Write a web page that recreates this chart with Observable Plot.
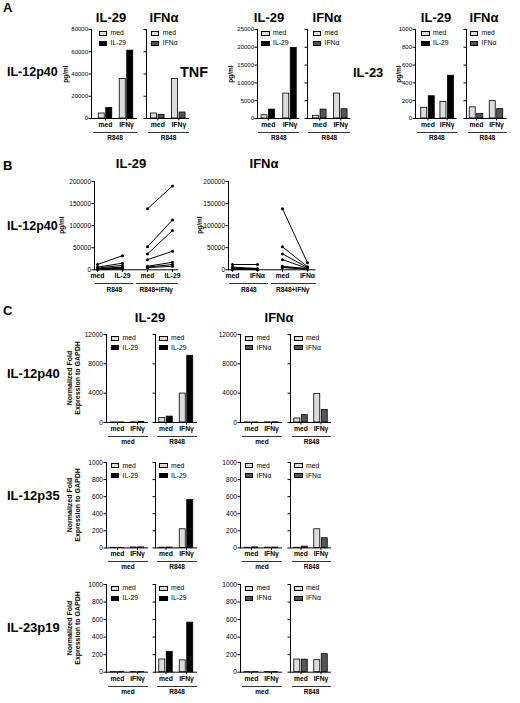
<!DOCTYPE html>
<html><head><meta charset="utf-8">
<script src="https://cdn.jsdelivr.net/npm/d3@7"></script>
<script src="https://cdn.jsdelivr.net/npm/@observablehq/plot@0.6"></script>
<style>
body{margin:0;background:#fff;}
#fig{position:relative;width:520px;height:703px;overflow:hidden;font-family:"Liberation Sans",Arial,Helvetica,sans-serif;color:#000;background:#fff;}
.t{position:absolute;white-space:nowrap;line-height:1;}
.box{position:absolute;box-sizing:border-box;border:1px solid #000;}
.ul{position:absolute;height:0;border-top:1px solid #333;}
</style></head><body><div id="fig"></div>
<script>
// ---------------- DATA ----------------
const conds = ["med", "IFNγ"];                 // x categories within each bar chart
const treatments = ["IL-29", "IFNα"];          // second series of each chart
const bGroups = ["R848", "R848+IFNγ"];
const donors = ["D1", "D2", "D3", "D4", "D5", "D6", "D7"];

// Panel A (pg/ml); arrays are [med, IFNγ]
const aP40_IL29_med = [4500, 35500];
const aP40_IL29_trt = [9500, 61000];
const aP40_IFNa_med = [4500, 35500];
const aP40_IFNa_trt = [3300, 5400];
const aTNF_IL29_med = [900, 7000];
const aTNF_IL29_trt = [2500, 19800];
const aTNF_IFNa_med = [750, 7000];
const aTNF_IFNa_trt = [2500, 2600];
const aIL23_IL29_med = [120, 185];
const aIL23_IL29_trt = [250, 480];
const aIL23_IFNa_med = [125, 195];
const aIL23_IFNa_trt = [50, 105];

// Panel B (pg/ml), one value per donor
const bR848_med = [12000, 6000, 4000, 3000, 2000, 1500, 1000];
const bR848_IL29 = [32000, 15000, 10000, 6000, 4000, 3000, 2000];
const bR848G_med = [138000, 52000, 36000, 23000, 8000, 6000, 5000];
const bR848G_IL29 = [190000, 113000, 89000, 42000, 17000, 12000, 8000];
const bR848_IFNa = [12000, 3000, 2000, 1500, 1000, 800, 500];
const bR848G_IFNa = [16000, 7000, 5000, 3000, 2500, 2000, 1500];

// Panel C (normalized fold expression); arrays are [med, IFNγ]
const cP40_IL29_medgrp_med = [10, 20];   const cP40_IL29_medgrp_trt = [10, 80];
const cP40_IL29_R848_med = [600, 3950];  const cP40_IL29_R848_trt = [800, 9100];
const cP40_IFNa_medgrp_med = [10, 20];   const cP40_IFNa_medgrp_trt = [10, 30];
const cP40_IFNa_R848_med = [550, 3900];  const cP40_IFNa_R848_trt = [1000, 1700];
const cP35_IL29_medgrp_med = [1, 5];     const cP35_IL29_medgrp_trt = [1, 6];
const cP35_IL29_R848_med = [3, 218];     const cP35_IL29_R848_trt = [4, 560];
const cP35_IFNa_medgrp_med = [2, 3];     const cP35_IFNa_medgrp_trt = [6, 4];
const cP35_IFNa_R848_med = [1, 218];     const cP35_IFNa_R848_trt = [15, 113];
const cP19_IL29_medgrp_med = [1, 1];     const cP19_IL29_medgrp_trt = [1, 1];
const cP19_IL29_R848_med = [145, 135];   const cP19_IL29_R848_trt = [232, 565];
const cP19_IFNa_medgrp_med = [1, 1];     const cP19_IFNa_medgrp_trt = [1, 1];
const cP19_IFNa_R848_med = [144, 137];   const cP19_IFNa_R848_trt = [143, 205];

// tick values
const ticksP40A = [0, 20000, 40000, 60000, 80000];
const ticksTNF = [0, 5000, 10000, 15000, 20000, 25000];
const ticks1000 = [0, 200, 400, 600, 800, 1000];
const ticksB = [0, 50000, 100000, 150000, 200000];
const ticksC1 = [0, 4000, 8000, 12000];

// ---------------- STYLE ----------------
const FONT = '"Liberation Sans", Arial, Helvetica, sans-serif';
const fills = {"med": "#dcdcdc", "IL-29": "#000000", "IFNα": "#555555"};
const fig = document.getElementById("fig");

function txt(x, y, s, o = {}) {
  const e = document.createElement("div");
  e.className = "t";
  e.textContent = s;
  e.style.left = x + "px";
  e.style.top = y + "px";
  e.style.fontSize = (o.size || 7) + "px";
  e.style.fontWeight = o.bold ? "bold" : "normal";
  const ax = o.anchor === "middle" ? "-50%" : o.anchor === "end" ? "-100%" : "0";
  e.style.transform = `translate(${ax},-50%)` + (o.rotate ? " rotate(-90deg)" : "");
  if (o.rotate) { e.style.textAlign = "center"; e.style.lineHeight = o.lh || "1"; }
  fig.appendChild(e);
  return e;
}
function underline(x1, x2, y) {
  const e = document.createElement("div");
  e.className = "ul";
  e.style.left = x1 + "px"; e.style.top = y + "px"; e.style.width = (x2 - x1) + "px";
  fig.appendChild(e);
}
function legend(x, y, names) {
  names.forEach((n, i) => {
    const b = document.createElement("div");
    b.className = "box";
    b.style.left = x + "px"; b.style.top = (y + i * 9.8 - 2.5) + "px";
    b.style.width = "8.5px"; b.style.height = "5px";
    b.style.background = fills[n];
    fig.appendChild(b);
    txt(x + 12, y + i * 9.8, n, {size: 6.8});
  });
}
function place(svg, left, top) {
  svg.style.position = "absolute";
  svg.style.left = left + "px";
  svg.style.top = top + "px";
  fig.appendChild(svg);
}

function barChart(o) {
  const ml = 34, mr = 2, mt = 3, mb = 14;
  const svgLeft = o.axisX - ml, svgTop = o.yTop - mt;
  const width = o.endX - o.axisX + ml + mr;
  const height = o.yBottom - o.yTop + mt + mb;
  const bw = 13.5, d = o.c2 - o.c1;
  const rows = conds.map((c, i) => ({cond: c, med: o.med[i], trt: o.trt[i]}));
  const svg = Plot.plot({
    width, height, marginLeft: ml, marginRight: mr, marginTop: mt, marginBottom: mb,
    style: `background: transparent; overflow: visible; font-family: ${FONT}; color: #000;`,
    x: {type: "band", domain: conds, range: [o.c1 - bw / 2 - svgLeft, o.c2 + bw / 2 - svgLeft],
        paddingInner: 1 - bw / d, paddingOuter: 0, round: false, label: null},
    y: {domain: [0, o.yMax], label: null},
    marks: [
      Plot.barY(rows, {x: "cond", y: "med", fill: fills["med"], stroke: "#000", strokeWidth: 0.8, insetLeft: 0, insetRight: 7.5}),
      Plot.barY(rows, {x: "cond", y: "trt", fill: fills[o.trtName], stroke: "#000", strokeWidth: 0.8, insetLeft: 7.5, insetRight: 0}),
      Plot.ruleY([0], {stroke: "#000", strokeWidth: 1}),
      Plot.frame({anchor: "left", stroke: "#000", strokeWidth: 1}),
      Plot.axisY({ticks: o.yTicks, tickSize: 2.5, tickPadding: 1, fontSize: o.tickFont || 6,
                  tickFormat: o.labels ? d3.format("d") : () => "", label: null}),
      Plot.axisX({tickSize: 2.5, tickPadding: 1, fontSize: 6.8, fontWeight: "bold", label: null})
    ]
  });
  place(svg, svgLeft, svgTop);
  legend(o.c1 - 6.5, o.yTop + 4, ["med", o.trtName]);
  underline(o.axisX + 1.5, o.endX, o.yBottom + 13.5);
  txt((o.axisX + o.endX) / 2 + 1, o.yBottom + 19.5, o.group, {size: 6.5, bold: true, anchor: "middle"});
}

function lineChart(o) {
  const ml = 34, mr = 2, mt = 3, mb = 14;
  const svgLeft = o.axisX - ml, svgTop = o.yTop - mt;
  const width = o.endX - o.axisX + ml + mr;
  const height = o.yBottom - o.yTop + mt + mb;
  const keys = [`${bGroups[0]}|med`, `${bGroups[0]}|${o.trtName}`, `${bGroups[1]}|med`, `${bGroups[1]}|${o.trtName}`];
  const rows = [];
  donors.forEach((dn, i) => {
    rows.push({donor: dn, grp: bGroups[0], key: keys[0], v: o.r848Med[i]});
    rows.push({donor: dn, grp: bGroups[0], key: keys[1], v: o.r848Trt[i]});
    rows.push({donor: dn, grp: bGroups[1], key: keys[2], v: o.gMed[i]});
    rows.push({donor: dn, grp: bGroups[1], key: keys[3], v: o.gTrt[i]});
  });
  const svg = Plot.plot({
    width, height, marginLeft: ml, marginRight: mr, marginTop: mt, marginBottom: mb,
    style: `background: transparent; overflow: visible; font-family: ${FONT}; color: #000;`,
    x: {type: "point", domain: keys, range: [o.xFirst - svgLeft, o.xLast - svgLeft], padding: 0, label: null},
    y: {domain: [0, 200000], label: null},
    marks: [
      Plot.ruleY([0], {stroke: "#000", strokeWidth: 1}),
      Plot.frame({anchor: "left", stroke: "#000", strokeWidth: 1}),
      Plot.line(rows, {x: "key", y: "v", z: d => d.donor + "/" + d.grp, stroke: "#000", strokeWidth: 1}),
      Plot.dot(rows, {x: "key", y: "v", r: 1.5, fill: "#000", stroke: "none"}),
      Plot.axisY({ticks: ticksB, tickSize: 2.5, tickPadding: 1, fontSize: 6.5, tickFormat: d3.format("d"), label: null}),
      Plot.axisX({tickSize: 2.5, tickPadding: 1, fontSize: 6.8, fontWeight: "bold", tickFormat: k => k.split("|")[1], label: null})
    ]
  });
  place(svg, svgLeft, svgTop);
  const mid = (o.xFirst + o.xLast) / 2;
  underline(o.axisX + 1, mid - 1.5, o.yBottom + 14);
  underline(mid + 1.5, o.endX, o.yBottom + 14);
  txt((o.axisX + mid) / 2, o.yBottom + 21, bGroups[0], {size: 6.5, bold: true, anchor: "middle"});
  txt((mid + o.endX) / 2, o.yBottom + 21, bGroups[1], {size: 6.5, bold: true, anchor: "middle"});
}

// ---------------- PANEL A ----------------
txt(3, 7, "A", {size: 13, bold: true});
const aTop = 29.3, aBot = 118.3;
barChart({axisX: 91, endX: 137, c1: 105, c2: 126, yTop: aTop, yBottom: aBot, yMax: 80000, yTicks: ticksP40A, labels: true, med: aP40_IL29_med, trt: aP40_IL29_trt, trtName: treatments[0], group: "R848"});
barChart({axisX: 146, endX: 189, c1: 157.3, c2: 178.3, yTop: aTop, yBottom: aBot, yMax: 80000, yTicks: ticksP40A, labels: false, med: aP40_IFNa_med, trt: aP40_IFNa_trt, trtName: treatments[1], group: "R848"});
barChart({axisX: 256.7, endX: 299, c1: 267.5, c2: 289.2, yTop: aTop, yBottom: aBot, yMax: 25000, yTicks: ticksTNF, labels: true, med: aTNF_IL29_med, trt: aTNF_IL29_trt, trtName: treatments[0], group: "R848"});
barChart({axisX: 306.7, endX: 350, c1: 319, c2: 340, yTop: aTop, yBottom: aBot, yMax: 25000, yTicks: ticksTNF, labels: false, med: aTNF_IFNa_med, trt: aTNF_IFNa_trt, trtName: treatments[1], group: "R848"});
barChart({axisX: 415, endX: 456.7, c1: 427.5, c2: 446.7, yTop: aTop, yBottom: aBot, yMax: 1000, yTicks: ticks1000, labels: true, med: aIL23_IL29_med, trt: aIL23_IL29_trt, trtName: treatments[0], group: "R848"});
barChart({axisX: 466, endX: 506.7, c1: 476, c2: 496, yTop: aTop, yBottom: aBot, yMax: 1000, yTicks: ticks1000, labels: false, med: aIL23_IFNa_med, trt: aIL23_IFNa_trt, trtName: treatments[1], group: "R848"});
[[111, "IL-29"], [164, "IFNα"], [269, "IL-29"], [327, "IFNα"], [436, "IL-29"], [484, "IFNα"]].forEach(([x, s]) => txt(x, 17, s, {size: 13, bold: true, anchor: "middle"}));
txt(7, 72, "IL-12p40", {size: 12.5, bold: true});
txt(180, 72, "TNF", {size: 14.5, bold: true});
txt(353, 72, "IL-23", {size: 13, bold: true});
[66, 231, 399].forEach(x => txt(x, 74, "pg/ml", {size: 6.5, bold: true, anchor: "middle", rotate: true}));

// ---------------- PANEL B ----------------
txt(3, 165, "B", {size: 13, bold: true});
lineChart({axisX: 94, endX: 178, xFirst: 97, xLast: 172, yTop: 181, yBottom: 269.3, trtName: treatments[0], r848Med: bR848_med, r848Trt: bR848_IL29, gMed: bR848G_med, gTrt: bR848G_IL29});
lineChart({axisX: 228.3, endX: 316, xFirst: 231, xLast: 308, yTop: 181, yBottom: 269.3, trtName: treatments[1], r848Med: bR848_med, r848Trt: bR848_IFNa, gMed: bR848G_med, gTrt: bR848G_IFNa});
txt(131, 163, "IL-29", {size: 13, bold: true, anchor: "middle"});
txt(264, 163, "IFNα", {size: 13, bold: true, anchor: "middle"});
txt(7, 226, "IL-12p40", {size: 12.5, bold: true});
[62, 200].forEach(x => txt(x, 225, "pg/ml", {size: 6.5, bold: true, anchor: "middle", rotate: true}));

// ---------------- PANEL C ----------------
txt(3, 309.5, "C", {size: 13, bold: true});
txt(150, 317, "IL-29", {size: 13, bold: true, anchor: "middle"});
txt(279, 317, "IFNα", {size: 13, bold: true, anchor: "middle"});
const cCols = [
  {axisX: 106, endX: 148, c1: 117, c2: 137, labels: true, group: "med", trtName: treatments[0]},
  {axisX: 155, endX: 197, c1: 165.5, c2: 186, labels: false, group: "R848", trtName: treatments[0]},
  {axisX: 240, endX: 282, c1: 251, c2: 271, labels: true, group: "med", trtName: treatments[1]},
  {axisX: 290, endX: 331, c1: 300.5, c2: 320.5, labels: false, group: "R848", trtName: treatments[1]}
];
const cRows = [
  {name: "IL-12p40", labelY: 373, yTop: 334, yBottom: 422, yMax: 12000, yTicks: ticksC1,
   series: [[cP40_IL29_medgrp_med, cP40_IL29_medgrp_trt], [cP40_IL29_R848_med, cP40_IL29_R848_trt], [cP40_IFNa_medgrp_med, cP40_IFNa_medgrp_trt], [cP40_IFNa_R848_med, cP40_IFNa_R848_trt]]},
  {name: "IL-12p35", labelY: 495, yTop: 461.9, yBottom: 547.3, yMax: 1000, yTicks: ticks1000,
   series: [[cP35_IL29_medgrp_med, cP35_IL29_medgrp_trt], [cP35_IL29_R848_med, cP35_IL29_R848_trt], [cP35_IFNa_medgrp_med, cP35_IFNa_medgrp_trt], [cP35_IFNa_R848_med, cP35_IFNa_R848_trt]]},
  {name: "IL-23p19", labelY: 627, yTop: 584.3, yBottom: 672, yMax: 1000, yTicks: ticks1000,
   series: [[cP19_IL29_medgrp_med, cP19_IL29_medgrp_trt], [cP19_IL29_R848_med, cP19_IL29_R848_trt], [cP19_IFNa_medgrp_med, cP19_IFNa_medgrp_trt], [cP19_IFNa_R848_med, cP19_IFNa_R848_trt]]}
];
cRows.forEach(r => {
  cCols.forEach((c, j) => {
    barChart({...c, yTop: r.yTop, yBottom: r.yBottom, yMax: r.yMax, yTicks: r.yTicks, tickFont: 6.6,
              med: r.series[j][0], trt: r.series[j][1]});
  });
  txt(7, r.labelY, r.name, {size: 13, bold: true});
  const yl = txt(74, (r.yTop + r.yBottom) / 2, "", {size: 7, bold: true, anchor: "middle", rotate: true, lh: "1.2"});
  yl.innerHTML = "Normalized Fold<br>Expression to GAPDH";
});
</script></body></html>
